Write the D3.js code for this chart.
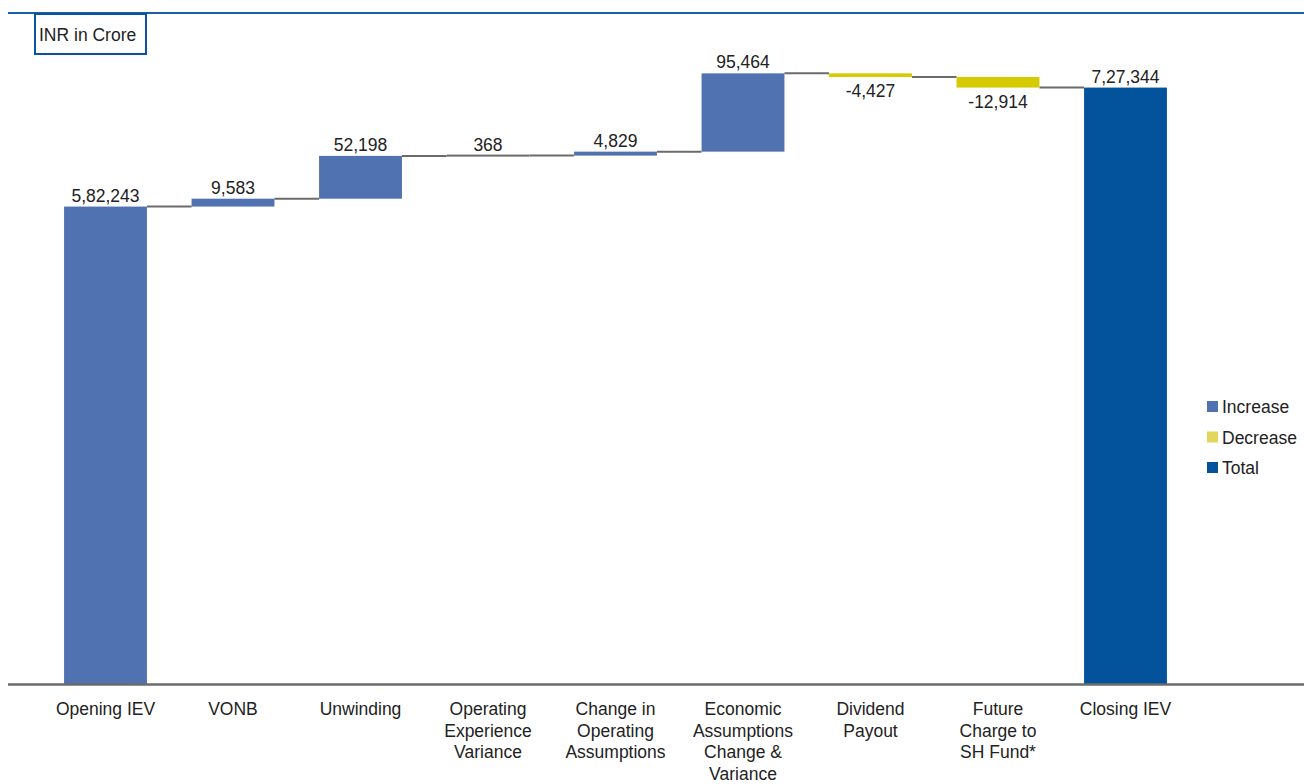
<!DOCTYPE html>
<html>
<head>
<meta charset="utf-8">
<script src="https://cdn.jsdelivr.net/npm/d3@7"></script>
<style>
  body { margin: 0; background: #fff; }
  text { font-family: "Liberation Sans", Arial, Helvetica, sans-serif; }
</style>
</head>
<body>
<div id="container"></div>
<script>
let w = 1304;
let h = 784;

// the data
let categories = ["Opening IEV", "VONB", "Unwinding", "Operating\nExperience\nVariance",
  "Change in\nOperating\nAssumptions", "Economic\nAssumptions\nChange &\nVariance",
  "Dividend\nPayout", "Future\nCharge to\nSH Fund*", "Closing IEV"];
let values = [582243, 9583, 52198, 368, 4829, 95464, -4427, -12914, 727344];
let kinds = ["increase", "increase", "increase", "increase", "increase", "increase", "decrease", "decrease", "total"];
let valueLabels = ["5,82,243", "9,583", "52,198", "368", "4,829", "95,464", "-4,427", "-12,914", "7,27,344"];
let legendNames = ["Increase", "Decrease", "Total"];

let colors = { increase: "#5072b0", decrease: "#d6ca00", total: "#03539c" };
let legendColors = ["#5072b0", "#e4d65c", "#03539c"];

let fontSize = 17.5;

let viz = d3.select("#container")
  .append("svg")
    .attr("width", w)
    .attr("height", h)
    .style("background-color", "white");

// build running totals for the waterfall
let running = 0;
let bars = categories.map(function(c, i){
  let d = { name: c, value: values[i], kind: kinds[i], label: valueLabels[i] };
  if (d.kind == "total" || i == 0) {
    d.start = 0;
    d.end = d.value;
  } else {
    d.start = running;
    d.end = running + d.value;
  }
  running = d.end;
  return d;
});

let baseY = 684;
let xScale = d3.scaleBand().domain(categories).range([41.75, 1189.25])
  .paddingInner(0.35).paddingOuter(0.175);
let yScale = d3.scaleLinear().domain([0, 800000]).range([baseY, 28]);

// top rule
viz.append("line")
  .attr("x1", 8).attr("x2", w).attr("y1", 13).attr("y2", 13)
  .attr("stroke", "#1d5ea8").attr("stroke-width", 2);

// unit box
viz.append("rect")
  .attr("x", 35).attr("y", 14).attr("width", 111).attr("height", 40)
  .attr("fill", "white").attr("stroke", "#0a53a0").attr("stroke-width", 2);
viz.append("text")
  .attr("x", 39).attr("y", 41)
  .attr("font-size", fontSize).attr("fill", "#222")
  .text("INR in Crore");

// connectors between bars
let connectors = viz.append("g");
bars.forEach(function(d, i){
  if (i == bars.length - 1) return;
  let next = bars[i + 1];
  let y = yScale(d.end);
  connectors.append("line")
    .attr("x1", xScale(d.name) + xScale.bandwidth())
    .attr("x2", xScale(next.name))
    .attr("y1", y).attr("y2", y)
    .attr("stroke", "#6b6b6b").attr("stroke-width", 2);
});

// the bars (tiny ones get drawn as a thin rule like the connectors)
let barGroup = viz.append("g");
barGroup.selectAll("rect").data(bars).enter()
  .append("rect")
    .attr("x", function(d){ return xScale(d.name); })
    .attr("width", xScale.bandwidth())
    .attr("y", function(d){
      let hgt = Math.abs(yScale(d.start) - yScale(d.end));
      if (hgt < 1) return yScale(d.end) - 1;
      return yScale(Math.max(d.start, d.end));
    })
    .attr("height", function(d){ return Math.max(2, Math.abs(yScale(d.start) - yScale(d.end))); })
    .attr("fill", function(d){
      if (Math.abs(yScale(d.start) - yScale(d.end)) < 1) return "#6b6b6b";
      return colors[d.kind];
    });

// value labels
barGroup.selectAll(".vlabel").data(bars).enter()
  .append("text")
    .attr("class", "vlabel")
    .attr("x", function(d){ return xScale(d.name) + xScale.bandwidth() / 2; })
    .attr("y", function(d){
      if (d.value < 0) return yScale(Math.min(d.start, d.end)) + 20;
      return yScale(Math.max(d.start, d.end)) - 5;
    })
    .attr("text-anchor", "middle")
    .attr("font-size", fontSize).attr("fill", "#222")
    .text(function(d){ return d.label; });

// x axis line
viz.append("line")
  .attr("x1", 8).attr("x2", w).attr("y1", baseY + 0.5).attr("y2", baseY + 0.5)
  .attr("stroke", "#6b6b6b").attr("stroke-width", 2.5);

// category labels
let catLabels = viz.append("g").selectAll("text").data(bars).enter()
  .append("text")
    .attr("x", function(d){ return xScale(d.name) + xScale.bandwidth() / 2; })
    .attr("y", 715)
    .attr("text-anchor", "middle")
    .attr("font-size", fontSize).attr("fill", "#222");
catLabels.each(function(d){
  let lines = d.name.split("\n");
  let t = d3.select(this);
  lines.forEach(function(l, j){
    t.append("tspan")
      .attr("x", xScale(d.name) + xScale.bandwidth() / 2)
      .attr("dy", j == 0 ? 0 : 21.5)
      .text(l);
  });
});

// legend
let legend = viz.append("g").attr("transform", "translate(1207, 401)");
legendNames.forEach(function(n, i){
  legend.append("rect")
    .attr("x", 0).attr("y", i * 30.5)
    .attr("width", 11).attr("height", 11)
    .attr("fill", legendColors[i]);
  legend.append("text")
    .attr("x", 15).attr("y", i * 30.5 + 12)
    .attr("font-size", fontSize).attr("fill", "#222")
    .text(n);
});
</script>
</body>
</html>
